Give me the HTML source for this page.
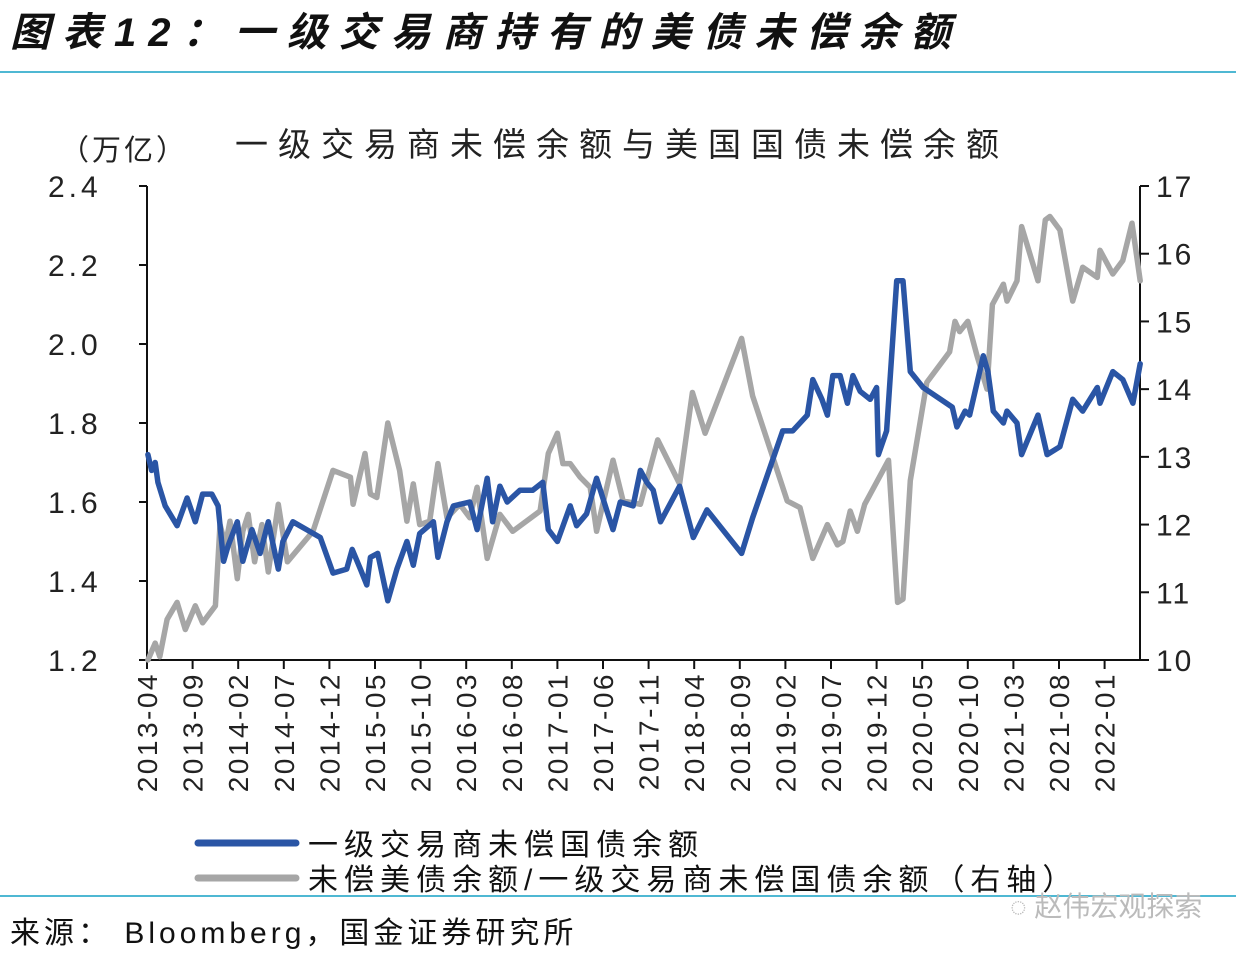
<!DOCTYPE html>
<html><head><meta charset="utf-8"><style>
html,body{margin:0;padding:0;background:#fff;width:1236px;height:958px;overflow:hidden}
svg{display:block}
text{font-family:"Liberation Sans","Noto Sans CJK SC",sans-serif}
</style></head><body>
<svg id="chart" width="1236" height="958" viewBox="0 0 1236 958">
<text x="10" y="46" font-size="40" font-weight="bold" font-style="italic" fill="#111" letter-spacing="12">图表12：一级交易商持有的美债未偿余额</text>
<rect x="0" y="71" width="1236" height="2" fill="#4fb8d3"/>
<text x="60" y="160" font-size="29" fill="#222" letter-spacing="3">（万亿）</text>
<text x="235" y="156" font-size="33" fill="#222" letter-spacing="10">一级交易商未偿余额与美国国债未偿余额</text>
<g id="axes"></g>
<g id="series"></g>
<g>
<line x1="198" y1="843" x2="296" y2="843" stroke="#2a55a5" stroke-width="7" stroke-linecap="round"/>
<text x="308" y="855" font-size="30" fill="#111" letter-spacing="6">一级交易商未偿国债余额</text>
<line x1="198" y1="878" x2="296" y2="878" stroke="#a6a6a6" stroke-width="7" stroke-linecap="round"/>
<text x="308" y="890" font-size="30" fill="#111" letter-spacing="6">未偿美债余额/一级交易商未偿国债余额（右轴）</text>
</g>
<rect x="0" y="895" width="1236" height="2" fill="#4fb8d3"/>
<text x="10" y="943" font-size="30" fill="#111" letter-spacing="4">来源： Bloomberg，国金证券研究所</text>
<text x="1010" y="916" font-size="28" fill="#bbb">◌ 赵伟宏观探索</text>
</svg>
<script>
const xLabels=["2013-04","2013-09","2014-02","2014-07","2014-12","2015-05","2015-10","2016-03","2016-08","2017-01","2017-06","2017-11","2018-04","2018-09","2019-02","2019-07","2019-12","2020-05","2020-10","2021-03","2021-08","2022-01"];
const leftTicks=[1.2,1.4,1.6,1.8,2.0,2.2,2.4];
const rightTicks=[10,11,12,13,14,15,16,17];
const dealerMonths=[0.1,0.5,0.9,1.2,2.0,3.3,4.4,5.3,6.1,7.1,7.8,8.4,8.9,9.9,10.5,11.5,12.4,13.3,14.4,14.9,16.0,17.5,19.0,20.4,21.9,22.5,23.4,24.1,24.5,25.3,26.4,27.4,28.5,29.2,29.9,31.4,31.9,32.9,33.6,35.4,36.2,37.3,37.9,38.7,39.5,40.9,42.3,43.4,44.0,45.0,46.4,47.1,48.2,49.3,50.4,51.1,51.9,53.3,54.1,54.8,55.5,56.3,58.4,59.9,61.4,65.2,66.4,69.7,70.8,71.6,72.4,73.0,74.0,74.6,75.2,76.0,76.8,77.4,78.2,79.3,80.0,80.2,81.1,82.2,82.9,83.7,85.1,88.3,88.8,89.7,90.2,91.7,92.2,92.8,93.9,94.3,95.4,95.9,97.7,98.7,100.1,101.5,102.6,104.2,104.5,105.9,107.0,108.1,108.9];
const dealerValues=[1.72,1.68,1.70,1.65,1.59,1.54,1.61,1.55,1.62,1.62,1.59,1.45,1.49,1.55,1.45,1.53,1.47,1.55,1.43,1.50,1.55,1.53,1.51,1.42,1.43,1.48,1.43,1.39,1.46,1.47,1.35,1.43,1.50,1.44,1.52,1.55,1.46,1.55,1.59,1.60,1.53,1.66,1.55,1.64,1.60,1.63,1.63,1.65,1.53,1.50,1.59,1.54,1.57,1.66,1.58,1.53,1.60,1.59,1.68,1.65,1.63,1.55,1.64,1.51,1.58,1.47,1.56,1.78,1.78,1.80,1.82,1.91,1.86,1.82,1.92,1.92,1.85,1.92,1.88,1.86,1.89,1.72,1.78,2.16,2.16,1.93,1.89,1.84,1.79,1.83,1.82,1.97,1.93,1.83,1.80,1.83,1.80,1.72,1.82,1.72,1.74,1.86,1.83,1.89,1.85,1.93,1.91,1.85,1.95];
const ratioMonths=[0.1,0.9,1.4,2.2,3.3,4.2,5.3,6.1,7.5,8.0,8.6,9.1,9.9,10.5,11.1,11.8,12.6,13.3,14.4,15.4,18.2,20.4,22.3,22.6,23.9,24.5,25.2,26.4,27.7,28.5,29.2,29.9,31.0,31.9,32.9,34.3,35.4,36.2,37.3,38.7,40.1,43.1,44.0,45.0,45.6,46.4,47.5,48.6,49.3,51.1,52.2,54.1,56.0,58.4,59.8,61.2,65.2,66.4,70.2,71.6,73.0,74.6,75.7,76.3,77.1,77.9,78.7,81.3,82.3,82.9,83.7,85.5,88.0,88.6,89.1,90.0,91.0,92.1,92.7,93.9,94.3,95.4,95.9,97.7,98.5,99.0,100.1,101.5,102.6,104.2,104.5,105.9,107.0,108.0,108.9];
const ratioValues=[10.0,10.25,10.05,10.6,10.85,10.45,10.8,10.55,10.8,12.0,11.7,12.05,11.2,11.9,12.15,11.45,12.0,11.3,12.3,11.45,11.9,12.8,12.7,12.3,13.05,12.45,12.4,13.5,12.8,12.05,12.6,12.0,12.05,12.9,12.1,12.3,12.1,12.55,11.5,12.15,11.9,12.2,13.05,13.35,12.9,12.9,12.7,12.55,11.9,12.95,12.35,12.3,13.25,12.6,13.95,13.35,14.75,13.9,12.35,12.25,11.5,12.0,11.7,11.75,12.2,11.9,12.3,12.95,10.85,10.9,12.65,14.1,14.55,15.0,14.85,15.0,14.5,14.0,15.25,15.55,15.3,15.6,16.4,15.6,16.5,16.55,16.35,15.3,15.8,15.65,16.05,15.7,15.9,16.45,15.6];

const X0=147,X1=1140,Y0=186,Y1=660,PXM=9.12;
const xs=m=>X0+m*PXM;
const yl=v=>Y1-(v-1.2)/1.2*(Y1-Y0);
const yr=v=>Y1-(v-10)/7*(Y1-Y0);
const NS="http://www.w3.org/2000/svg";
function mk(tag,attrs,parent,txt){const e=document.createElementNS(NS,tag);for(const k in attrs)e.setAttribute(k,attrs[k]);if(txt!==undefined)e.textContent=txt;parent.appendChild(e);return e;}
const axes=document.getElementById('axes'),series=document.getElementById('series');

let e=mk('line',{x1:X0,y1:Y0,x2:X0,y2:Y1,stroke:'#111','stroke-width':2},axes);


e=mk('line',{x1:X1,y1:Y0,x2:X1,y2:Y1,stroke:'#111','stroke-width':2},axes);


e=mk('line',{x1:X0,y1:Y1,x2:X1,y2:Y1,stroke:'#111','stroke-width':2},axes);



leftTicks.forEach(v=>{
  const y=yl(v);
  let t=mk('line',{x1:X0-8,y1:y,x2:X0,y2:y,stroke:'#111','stroke-width':2},axes);
  
  
  let l=mk('text',{x:48,y:y+11,'font-size':30,fill:'#222','letter-spacing':4},axes,v.toFixed(1));
  
  
});
rightTicks.forEach(v=>{
  const y=yr(v);
  let t=mk('line',{x1:X1,y1:y,x2:X1+9,y2:y,stroke:'#111','stroke-width':2},axes);
  
  
  let l=mk('text',{x:1156,y:y+11,'font-size':30,fill:'#222','letter-spacing':2},axes,String(v));
  
  
});
xLabels.forEach((s,i)=>{
  const x=xs(i*5);
  let t=mk('line',{x1:x,y1:Y1,x2:x,y2:Y1+9,stroke:'#111','stroke-width':2},axes);
  
  
  let l=mk('text',{x:0,y:0,'font-size':28,fill:'#222','text-anchor':'end','letter-spacing':2.5,transform:`translate(${x+10},${Y1+12}) rotate(-90)`},axes,s);
  
  
});

function path(ms,vs,yf){return ms.map((m,i)=>(i?'L':'M')+xs(m).toFixed(1)+','+yf(vs[i]).toFixed(1)).join('');}
let p=mk('path',{d:path(ratioMonths,ratioValues,yr),fill:'none',stroke:'#a6a6a6','stroke-width':5.5,'stroke-linejoin':'round','stroke-linecap':'round'},series);


p=mk('path',{d:path(dealerMonths,dealerValues,yl),fill:'none',stroke:'#2a55a5','stroke-width':5.5,'stroke-linejoin':'round','stroke-linecap':'round'},series);


</script>
</body></html>
